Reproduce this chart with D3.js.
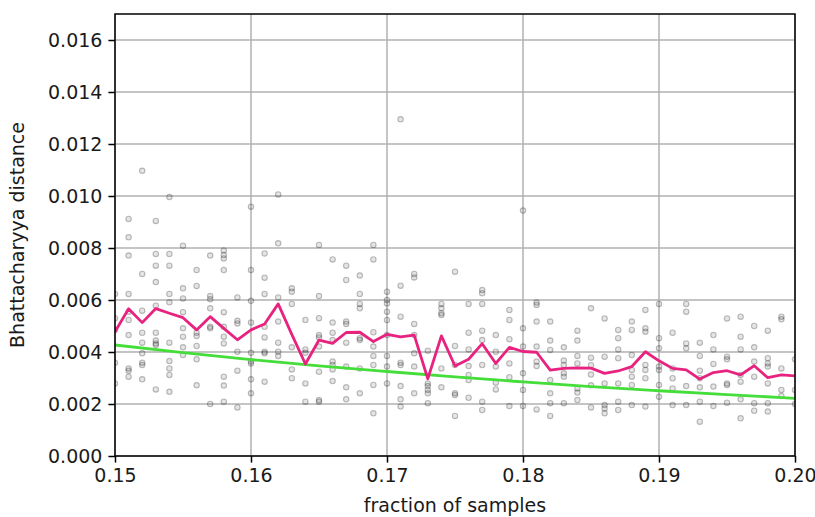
<!DOCTYPE html>
<html>
<head>
<meta charset="utf-8">
<script src="https://cdn.jsdelivr.net/npm/d3@7"></script>
<style>
  body { margin: 0; background: #fff; }
  svg { display: block; font-family: "DejaVu Sans", sans-serif; }
</style>
</head>
<body>
<svg id="chart" width="815" height="517"></svg>
<script>
// ---- data ----
const fractions = [0.150,0.151,0.152,0.153,0.154,0.155,0.156,0.157,0.158,0.159,
  0.160,0.161,0.162,0.163,0.164,0.165,0.166,0.167,0.168,0.169,
  0.170,0.171,0.172,0.173,0.174,0.175,0.176,0.177,0.178,0.179,
  0.180,0.181,0.182,0.183,0.184,0.185,0.186,0.187,0.188,0.189,
  0.190,0.191,0.192,0.193,0.194,0.195,0.196,0.197,0.198,0.199,0.200];

const meanDistance = [0.00478,0.00566,0.00513,0.00567,0.00549,0.00532,0.00485,0.00536,0.00491,0.00447,
  0.00485,0.00508,0.00585,0.00468,0.00354,0.00446,0.00433,0.00475,0.00476,0.00440,
  0.00468,0.00458,0.00465,0.00297,0.00462,0.00346,0.00372,0.00432,0.00356,0.00418,
  0.00402,0.00399,0.00330,0.00337,0.00339,0.00338,0.00318,0.00327,0.00344,0.00401,
  0.00366,0.00337,0.00331,0.00296,0.00321,0.00328,0.00312,0.00347,0.00301,0.00312,0.00308];

const fitFractions = [0.150,0.155,0.160,0.165,0.170,0.175,0.180,0.185,0.190,0.195,0.200];
const fitDistance = [0.00427,0.00398,0.00371,0.00347,0.00325,0.00304,0.00285,0.00267,0.00251,0.00236,0.00222];

const samples = [
  [0.00623,0.0053,0.00485,0.00359,0.00279],
  [0.00912,0.00841,0.00771,0.00623,0.00555,0.00523,0.00465,0.00337,0.00328,0.00305],
  [0.01097,0.0070,0.00559,0.00474,0.00436,0.00395,0.00359,0.0035,0.00295],
  [0.00904,0.00777,0.00732,0.00669,0.00578,0.00474,0.00444,0.00433,0.00427,0.00256],
  [0.00996,0.00777,0.00732,0.00623,0.00591,0.00436,0.00365,0.00337,0.00312,0.00247],
  [0.00809,0.00645,0.00606,0.00553,0.00491,0.00459,0.00418,0.00388],
  [0.00715,0.00654,0.00474,0.00462,0.00423,0.00372,0.00272],
  [0.00771,0.00615,0.00603,0.00568,0.00497,0.00491,0.0020],
  [0.0079,0.00773,0.0076,0.00715,0.00553,0.00497,0.00459,0.00433,0.00305,0.00271,0.00209],
  [0.0061,0.0052,0.0051,0.00401,0.00328,0.00187],
  [0.00959,0.00715,0.00597,0.00513,0.00397,0.00363,0.00356,0.00295,0.00241],
  [0.00779,0.00686,0.00623,0.00497,0.00456,0.00401,0.00395,0.00286],
  [0.01006,0.00818,0.0061,0.00517,0.00436,0.00401,0.00385],
  [0.00645,0.00632,0.00585,0.00418,0.00333,0.00299],
  [0.00523,0.0041,0.00397,0.00279,0.00209],
  [0.00812,0.00615,0.0053,0.00465,0.00456,0.00421,0.00324,0.00215,0.00209],
  [0.00756,0.00513,0.00474,0.00446,0.00363,0.0035,0.00333,0.00288],
  [0.00732,0.00677,0.00517,0.00508,0.00436,0.00344,0.00264,0.00218],
  [0.00694,0.00623,0.00585,0.00568,0.00453,0.00446,0.00337,0.00241],
  [0.00812,0.00756,0.00476,0.00421,0.00385,0.0035,0.00273,0.00164],
  [0.00632,0.006,0.00587,0.00555,0.00523,0.00465,0.00385,0.00344,0.00279],
  [0.01295,0.00655,0.00536,0.00359,0.0035,0.00269,0.00218,0.0019],
  [0.007,0.00687,0.00508,0.00465,0.00395,0.00344,0.00241],
  [0.00405,0.00279,0.00269,0.00254,0.00241,0.00203],
  [0.00585,0.00568,0.00549,0.00542,0.00337,0.00264],
  [0.00709,0.00423,0.0035,0.00241,0.00235,0.00154],
  [0.00585,0.00474,0.0041,0.00346,0.00312,0.00292,0.00224],
  [0.00638,0.00626,0.00585,0.00482,0.00446,0.0035,0.00209,0.00177],
  [0.00465,0.00401,0.00344,0.00282,0.00256],
  [0.00562,0.00523,0.00449,0.00356,0.00303,0.00192],
  [0.00944,0.00491,0.00421,0.00318,0.00254,0.00192],
  [0.0059,0.00581,0.00517,0.00421,0.00363,0.00346,0.00179],
  [0.00517,0.00444,0.00408,0.00292,0.00241,0.00203,0.00154],
  [0.00418,0.00367,0.0035,0.00318,0.00305,0.00203],
  [0.00482,0.00444,0.00385,0.00356,0.0026,0.00244,0.00215],
  [0.00568,0.00378,0.00349,0.00313,0.00272,0.00187],
  [0.00529,0.00382,0.00279,0.00196,0.00183,0.00164],
  [0.00485,0.00453,0.0041,0.00376,0.00279,0.00209,0.00177],
  [0.00517,0.00485,0.00388,0.00331,0.00305,0.00273,0.00196],
  [0.00562,0.00491,0.00478,0.0035,0.00331,0.00299,0.0019],
  [0.00585,0.00453,0.00414,0.00344,0.00331,0.00273,0.00228],
  [0.00474,0.00337,0.00299,0.0026,0.00196],
  [0.00585,0.00555,0.00433,0.00414,0.00269,0.00196],
  [0.00436,0.00385,0.00328,0.00299,0.00264,0.00209,0.00132],
  [0.00465,0.0041,0.00354,0.00267,0.00192],
  [0.00529,0.00382,0.00372,0.00279,0.00273,0.00205],
  [0.00536,0.00459,0.0041,0.00312,0.00286,0.00218,0.00145],
  [0.005,0.00418,0.00363,0.00305,0.00203,0.00174],
  [0.00482,0.00376,0.00356,0.00344,0.00279,0.00203,0.00171],
  [0.00536,0.00526,0.00337,0.00254,0.00231],
  [0.00372,0.00254,0.002]
];

const xTicks = [0.15,0.16,0.17,0.18,0.19,0.20];
const yTicks = [0.000,0.002,0.004,0.006,0.008,0.010,0.012,0.014,0.016];
const xLabel = "fraction of samples";
const yLabel = "Bhattacharyya distance";

// ---- layout ----
const L = 115, R = 795, T = 14, B = 456;
const svg = d3.select("#chart");
const x = d3.scaleLinear().domain([0.15, 0.20]).range([L, R]);
const y = d3.scaleLinear().domain([0, 0.017]).range([B, T]);

const defs = svg.append("defs");
defs.append("clipPath").attr("id", "clip").append("rect")
  .attr("x", L).attr("y", T).attr("width", R - L).attr("height", B - T);

// grid
const grid = svg.append("g");
grid.selectAll(".gx").data(xTicks).join("line")
  .attr("x1", d => x(d)).attr("x2", d => x(d)).attr("y1", T).attr("y2", B)
  .attr("stroke", "#b0b0b0").attr("stroke-width", 1.5);
grid.selectAll(".gy").data(yTicks).join("line")
  .attr("x1", L).attr("x2", R).attr("y1", d => y(d)).attr("y2", d => y(d))
  .attr("stroke", "#b0b0b0").attr("stroke-width", 1.5);

const plot = svg.append("g").attr("clip-path", "url(#clip)");

// scatter
const pts = [];
samples.forEach((col, i) => col.forEach(v => pts.push([fractions[i], v])));
plot.append("g").selectAll("circle").data(pts).join("circle")
  .attr("cx", d => x(d[0])).attr("cy", d => y(d[1])).attr("r", 2.7)
  .attr("fill", "#000").attr("fill-opacity", 0.1)
  .attr("stroke", "#000").attr("stroke-opacity", 0.25).attr("stroke-width", 1.1);

// fit line
plot.append("path")
  .datum(fitFractions.map((f, i) => [f, fitDistance[i]]))
  .attr("fill", "none").attr("stroke", "#44dd3a").attr("stroke-width", 2.8)
  .attr("d", d3.line().x(d => x(d[0])).y(d => y(d[1])).curve(d3.curveMonotoneX));

// mean line
plot.append("path")
  .datum(fractions.map((f, i) => [f, meanDistance[i]]))
  .attr("fill", "none").attr("stroke", "#e8237f").attr("stroke-width", 2.8)
  .attr("stroke-linejoin", "round")
  .attr("d", d3.line().x(d => x(d[0])).y(d => y(d[1])));

// axes
const xAxis = d3.axisBottom(x).tickValues(xTicks).tickFormat(d3.format(".2f")).tickSize(6.6).tickPadding(6);
const yAxis = d3.axisLeft(y).tickValues(yTicks).tickFormat(d3.format(".3f")).tickSize(6.6).tickPadding(6);
const gx = svg.append("g").attr("transform", `translate(0,${B})`).call(xAxis);
const gy = svg.append("g").attr("transform", `translate(${L},0)`).call(yAxis);
[gx, gy].forEach(g => {
  g.select(".domain").remove();
  g.selectAll(".tick line").attr("stroke", "#000").attr("stroke-width", 1.5);
  g.selectAll(".tick text").attr("fill", "#1a1a1a").style("font-size", "19px")
    .style("font-family", "DejaVu Sans, sans-serif");
});

// frame
svg.append("rect").attr("x", L).attr("y", T).attr("width", R - L).attr("height", B - T)
  .attr("fill", "none").attr("stroke", "#000").attr("stroke-width", 1.5);

// labels
svg.append("text").attr("x", (L + R) / 2).attr("y", 512).attr("text-anchor", "middle")
  .attr("fill", "#1a1a1a").style("font-size", "19px").text(xLabel);
svg.append("text").attr("transform", `translate(24,${(T + B) / 2}) rotate(-90)`)
  .attr("text-anchor", "middle").attr("fill", "#1a1a1a").style("font-size", "19px").text(yLabel);
</script>
</body>
</html>
